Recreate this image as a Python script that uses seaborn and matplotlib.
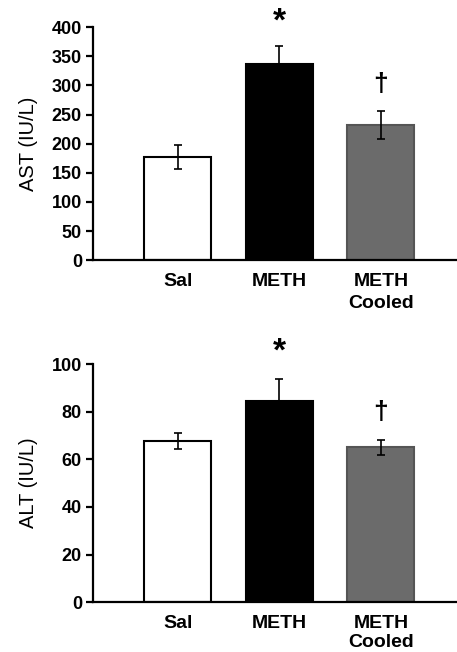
"""
AST / ALT por grupo (Sal, METH, METH Cooled).
"""

import matplotlib
matplotlib.use("Agg")
import matplotlib.pyplot as plt
import seaborn as sns
import pandas as pd

groups = ["Sal", "METH", "METH\nCooled"]
ast_mean = [177, 336, 232]
ast_sem = [20, 31, 24]
alt_mean = [67.6, 84.3, 65.0]
alt_sem = [3.3, 9.5, 3.2]
ast_marks = ["", "*", "†"]
alt_marks = ["", "*", "†"]

fill_colors = ["#ffffff", "#000000", "#6b6b6b"]
edge_colors = ["#000000", "#000000", "#555555"]

sns.set_style("ticks")
plt.rcParams["font.family"] = ["Liberation Sans", "DejaVu Sans"]
plt.rcParams["text.color"] = "black"
plt.rcParams["axes.labelcolor"] = "black"
plt.rcParams["xtick.color"] = "black"
plt.rcParams["ytick.color"] = "black"
plt.rcParams["axes.edgecolor"] = "black"

fig = plt.figure(figsize=(4.57, 6.52), dpi=100)
ax_top = fig.add_axes([0.2035, 0.601, 0.7965, 0.3574])
ax_bot = fig.add_axes([0.2035, 0.0762, 0.7965, 0.3655])


def draw_panel(ax, means, sems, marks, ylabel, ylim, yticks, mark_y,
               spacing):
    df = pd.DataFrame({"grupo": groups, "valor": means})
    sns.barplot(
        data=df, x="grupo", y="valor", hue="grupo", palette=fill_colors,
        width=0.66, legend=False, ax=ax, linewidth=1.5,
    )
    for patch, ec in zip(ax.patches, edge_colors):
        patch.set_edgecolor(ec)
    ax.errorbar(range(len(groups)), means, yerr=sems, fmt="none",
                ecolor="black", elinewidth=1.2, capsize=3, capthick=1.2)
    for i, m in enumerate(marks):
        if not m:
            continue
        size = 24 if m == "*" else 19
        ax.text(i, mark_y[i], m, ha="center", va="center",
                fontsize=size, fontweight="bold")
    ax.set_xlim(-0.837, 2.749)
    ax.set_ylim(*ylim)
    ax.set_yticks(yticks)
    ax.set_xlabel("")
    ax.set_ylabel(ylabel, fontsize=14.5, labelpad=10)
    sns.despine(ax=ax)
    for sp in ["left", "bottom"]:
        ax.spines[sp].set_linewidth(1.6)
    ax.tick_params(axis="y", length=5, width=1.6, labelsize=13, pad=3)
    ax.tick_params(axis="x", length=0, labelsize=14, pad=9)
    for lab in ax.get_xticklabels() + ax.get_yticklabels():
        lab.set_fontweight("bold")
        lab.set_linespacing(spacing)


draw_panel(ax_top, ast_mean, ast_sem, ast_marks, "AST (IU/L)",
           (0, 400), range(0, 401, 50), [0, 408, 303], 1.45)
draw_panel(ax_bot, alt_mean, alt_sem, alt_marks, "ALT (IU/L)",
           (0, 100), range(0, 101, 20), [0, 105, 80], 1.2)

fig.savefig("out.png", dpi=100)
